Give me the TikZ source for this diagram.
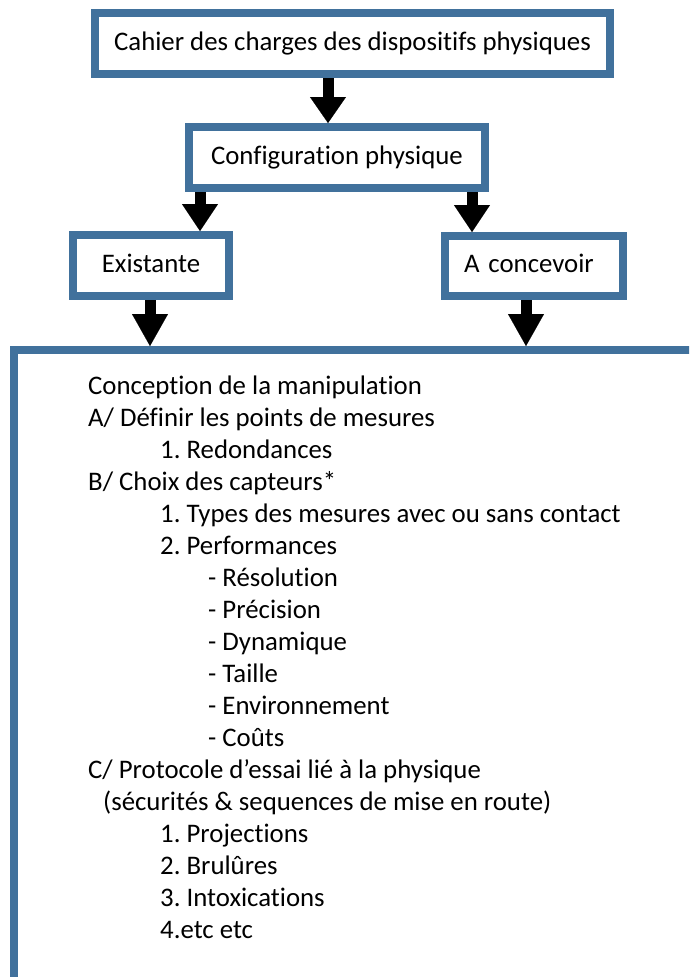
\documentclass[tikz,border=0pt]{standalone}
\usepackage{fontspec}
\setmainfont{Carlito}[Ligatures={NoCommon}]
\usetikzlibrary{arrows.meta}
\definecolor{boxblue}{RGB}{65,113,156}
\frenchspacing
\begin{document}
\begin{tikzpicture}[x=1pt,y=-1pt,
  box/.style={draw=boxblue,line width=8pt,fill=white,inner sep=0pt,rectangle,anchor=north west,
    font=\fontsize{26.8}{32}\selectfont,text height=19pt,text depth=6pt},
  arr/.style={line width=11pt,-{Triangle[width=36pt,length=#1,line width=0.1pt]}},
  arr/.default=29pt,
  txt/.style={anchor=base west,inner sep=0pt,font=\fontsize{26.8}{32}\selectfont}]
\useasboundingbox (0,0) rectangle (689,977);
\clip (0,0) rectangle (689,977);
\fill[white] (0,0) rectangle (689,977);
% coordinates for arrow x positions
\coordinate (x1) at (328,0);
\coordinate (x2) at (200,0);
\coordinate (x3) at (472,0);
\coordinate (x4) at (150,0);
\coordinate (x5) at (526,0);
% boxes
\node[box,minimum width=515pt,minimum height=61pt] (b1) at (91,9) {Cahier des charges des dispositifs physiques};
\node[box,minimum width=296pt,minimum height=61pt] (b2) at (185,123) {Configuration physique};
\node[box,minimum width=156pt,minimum height=61pt] (ex) at (69,231) {Existante};
\node[box,minimum width=178pt,minimum height=60pt,text width=140pt,align=left] (ac) at (441,232) {A concevoir};
\node[box,minimum width=706pt,minimum height=660pt] (main) at (10,346) {};
% arrows
\draw[arr=26pt] (b1.south -| x1) -- (b2.north -| x1);
\draw[arr=27pt] (b2.south -| x2) -- (ex.north -| x2);
\draw[arr=27pt] (b2.south -| x3) -- (ac.north -| x3);
\draw[arr=32pt] (ex.south -| x4) -- (main.north -| x4);
\draw[arr=32pt] (ac.south -| x5) -- (main.north -| x5);
% text of the large box
\node[txt] (l1)  at (88,394) {Conception de la manipulation};
\node[txt] (l2)  at (88,426) {A/ Définir les points de mesures};
\node[txt] (l3)  at (160,458) {1. Redondances};
\node[txt] (l4)  at (88,490) {B/ Choix des capteurs*};
\node[txt] (l5)  at (160,522) {1. Types des mesures avec ou sans contact};
\node[txt] (l6)  at (160,554) {2. Performances};
\node[txt] (l7)  at (208,586) {- Résolution};
\node[txt] (l8)  at (208,618) {- Précision};
\node[txt] (l9)  at (208,650) {- Dynamique};
\node[txt] (l10) at (208,682) {- Taille};
\node[txt] (l11) at (208,714) {- Environnement};
\node[txt] (l12) at (208,746) {- Coûts};
\node[txt] (l13) at (88,778) {C/ Protocole d’essai lié à la physique};
\node[txt] (l14) at (103,810) {(sécurités \& sequences de mise en route)};
\node[txt] (l15) at (160,842) {1. Projections};
\node[txt] (l16) at (160,874) {2. Brulûres};
\node[txt] (l17) at (160,906) {3. Intoxications};
\node[txt] (l18) at (160,938) {4.etc etc};
\end{tikzpicture}
\end{document}
